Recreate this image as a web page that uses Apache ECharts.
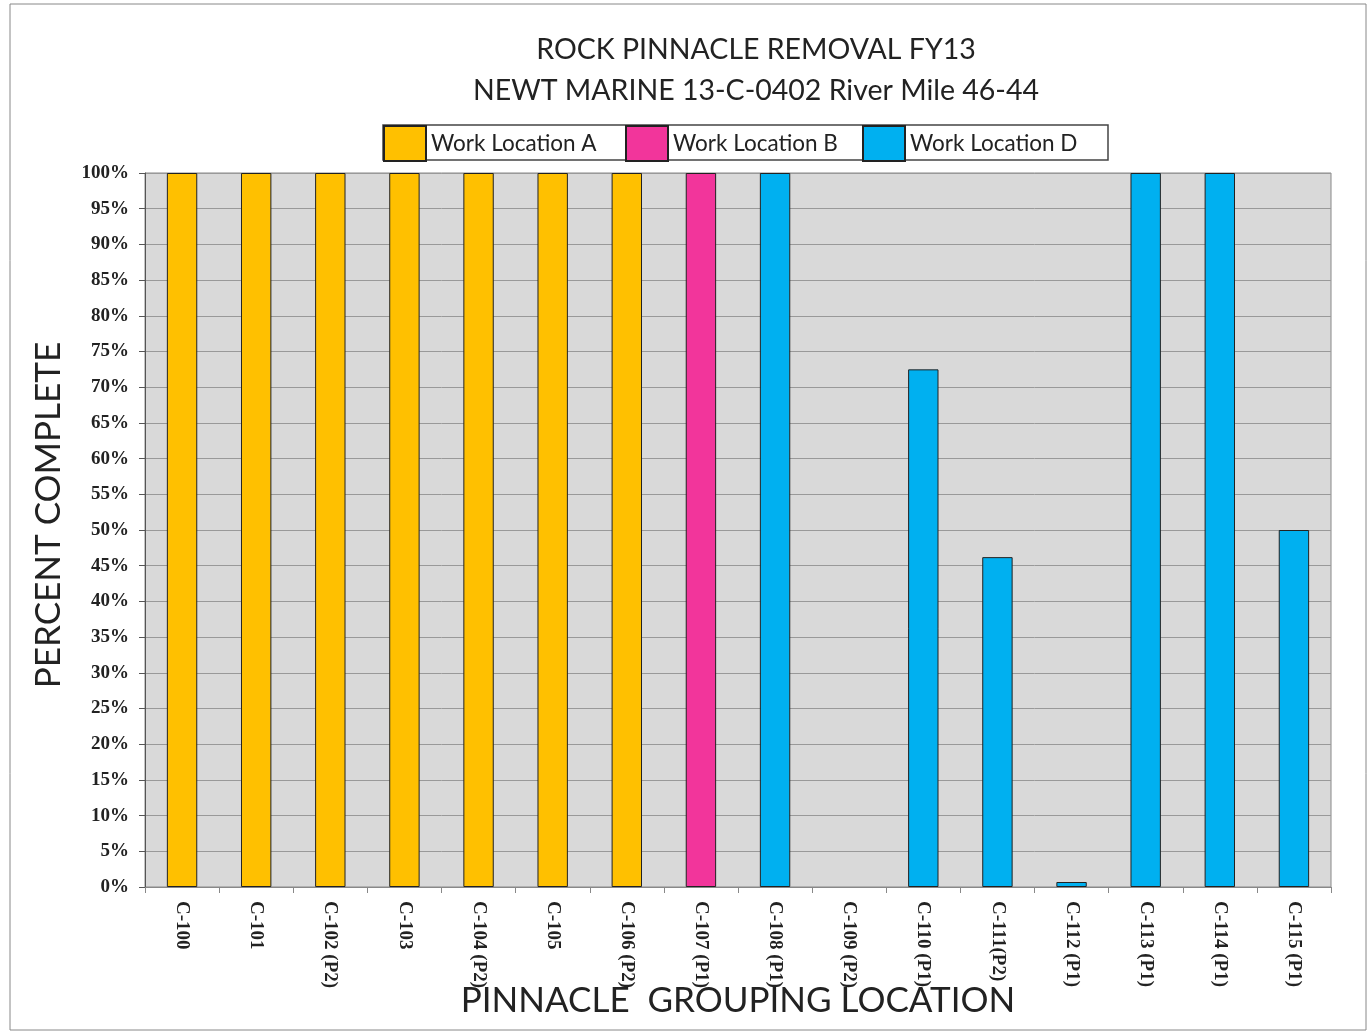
<!DOCTYPE html>
<html>
<head>
<meta charset="utf-8">
<script src="https://cdn.jsdelivr.net/npm/echarts@6/dist/echarts.min.js"></script>
<style>
  html, body { margin: 0; padding: 0; background: #fff; }
  #chart { width: 1372px; height: 1034px; }
</style>
</head>
<body>
<div id="chart"></div>
<script>
// pinnacle groups along the x axis
const categories = [
  'C-100', 'C-101', 'C-102 (P2)', 'C-103', 'C-104 (P2)', 'C-105', 'C-106 (P2)', 'C-107 (P1)',
  'C-108 (P1)', 'C-109 (P2)', 'C-110 (P1)', 'C-111(P2)', 'C-112 (P1)', 'C-113 (P1)', 'C-114 (P1)', 'C-115 (P1)'
];
// percent complete, '-' where a location has no bar
const locationA = [100, 100, 100, 100, 100, 100, 100, '-', '-', '-', '-', '-', '-', '-', '-', '-'];
const locationB = ['-', '-', '-', '-', '-', '-', '-', 100, '-', '-', '-', '-', '-', '-', '-', '-'];
const locationD = ['-', '-', '-', '-', '-', '-', '-', '-', 100, '-', 72.5, 46.2, 0.7, 100, 100, 50];
const seriesNames = ['Work Location A', 'Work Location B', 'Work Location D'];

const font = 'Lato, "Open Sans", sans-serif';
const serif = '"Liberation Serif", "DejaVu Serif", serif';

const chart = echarts.init(document.getElementById('chart'));

const barStyle = (color) => ({ color: color, borderColor: '#222', borderWidth: 1 });

// one legend block per series so the boxes sit at fixed spots like the original
const legendLefts = [383, 625, 862];
const legends = seriesNames.map((name, i) => ({
  left: legendLefts[i],
  top: 125,
  padding: 0,
  itemWidth: 42,
  itemHeight: 35,
  icon: 'rect',
  textStyle: { fontFamily: font, fontSize: 22.5, color: '#222' },
  data: [name]
}));

chart.setOption({
  backgroundColor: '#fff',
  animation: false,
  graphic: [{
    type: 'rect',
    shape: { x: 10, y: 4, width: 1356, height: 1026 },
    style: { fill: 'none', stroke: '#888', lineWidth: 1 },
    silent: true
  }, {
    type: 'rect',
    shape: { x: 383, y: 125, width: 725, height: 35 },
    style: { fill: '#fff', stroke: '#444', lineWidth: 1.5 },
    silent: true
  }],
  title: {
    text: 'ROCK PINNACLE REMOVAL FY13\nNEWT MARINE 13-C-0402 River Mile 46-44',
    left: 751,
    textAlign: 'center',
    top: 24,
    textStyle: { fontFamily: font, fontWeight: 'normal', fontSize: 28.5, lineHeight: 41, color: '#222' }
  },
  legend: legends,
  grid: {
    left: 145, right: 41, top: 173, bottom: 147,
    outerBoundsMode: 'none',
    show: true,
    backgroundColor: '#d9d9d9',
    borderColor: '#888',
    borderWidth: 1
  },
  xAxis: {
    type: 'category',
    data: categories,
    name: 'PINNACLE  GROUPING LOCATION',
    nameLocation: 'middle',
    nameGap: 96,
    nameMoveOverlap: false,
    nameTextStyle: { fontFamily: font, fontSize: 35, color: '#222' },
    axisLine: { lineStyle: { color: '#888' } },
    axisTick: { show: true, alignWithLabel: false, length: 6, lineStyle: { color: '#888' } },
    axisLabel: {
      rotate: -90,
      interval: 0,
      margin: 14,
      fontFamily: serif,
      fontWeight: 'bold',
      fontSize: 19,
      color: '#222'
    }
  },
  yAxis: {
    type: 'value',
    min: 0,
    max: 100,
    interval: 5,
    name: 'PERCENT COMPLETE',
    nameLocation: 'middle',
    nameGap: 79,
    nameMoveOverlap: false,
    nameTextStyle: { fontFamily: font, fontSize: 35, color: '#222', padding: [0, 0, 0, 30] },
    axisLine: { show: true, lineStyle: { color: '#555' } },
    axisTick: { show: true, length: 6, lineStyle: { color: '#555' } },
    axisLabel: {
      formatter: '{value}%',
      fontFamily: serif,
      fontWeight: 'bold',
      fontSize: 19,
      color: '#222',
      margin: 16
    },
    splitLine: { lineStyle: { color: '#999', width: 1 } }
  },
  series: [
    { name: seriesNames[0], type: 'bar', stack: 'loc', barWidth: '41%', data: locationA, itemStyle: barStyle('#ffc000') },
    { name: seriesNames[1], type: 'bar', stack: 'loc', data: locationB, itemStyle: barStyle('#f2359b') },
    { name: seriesNames[2], type: 'bar', stack: 'loc', data: locationD, itemStyle: barStyle('#00b0f0') }
  ]
});
</script>
</body>
</html>
